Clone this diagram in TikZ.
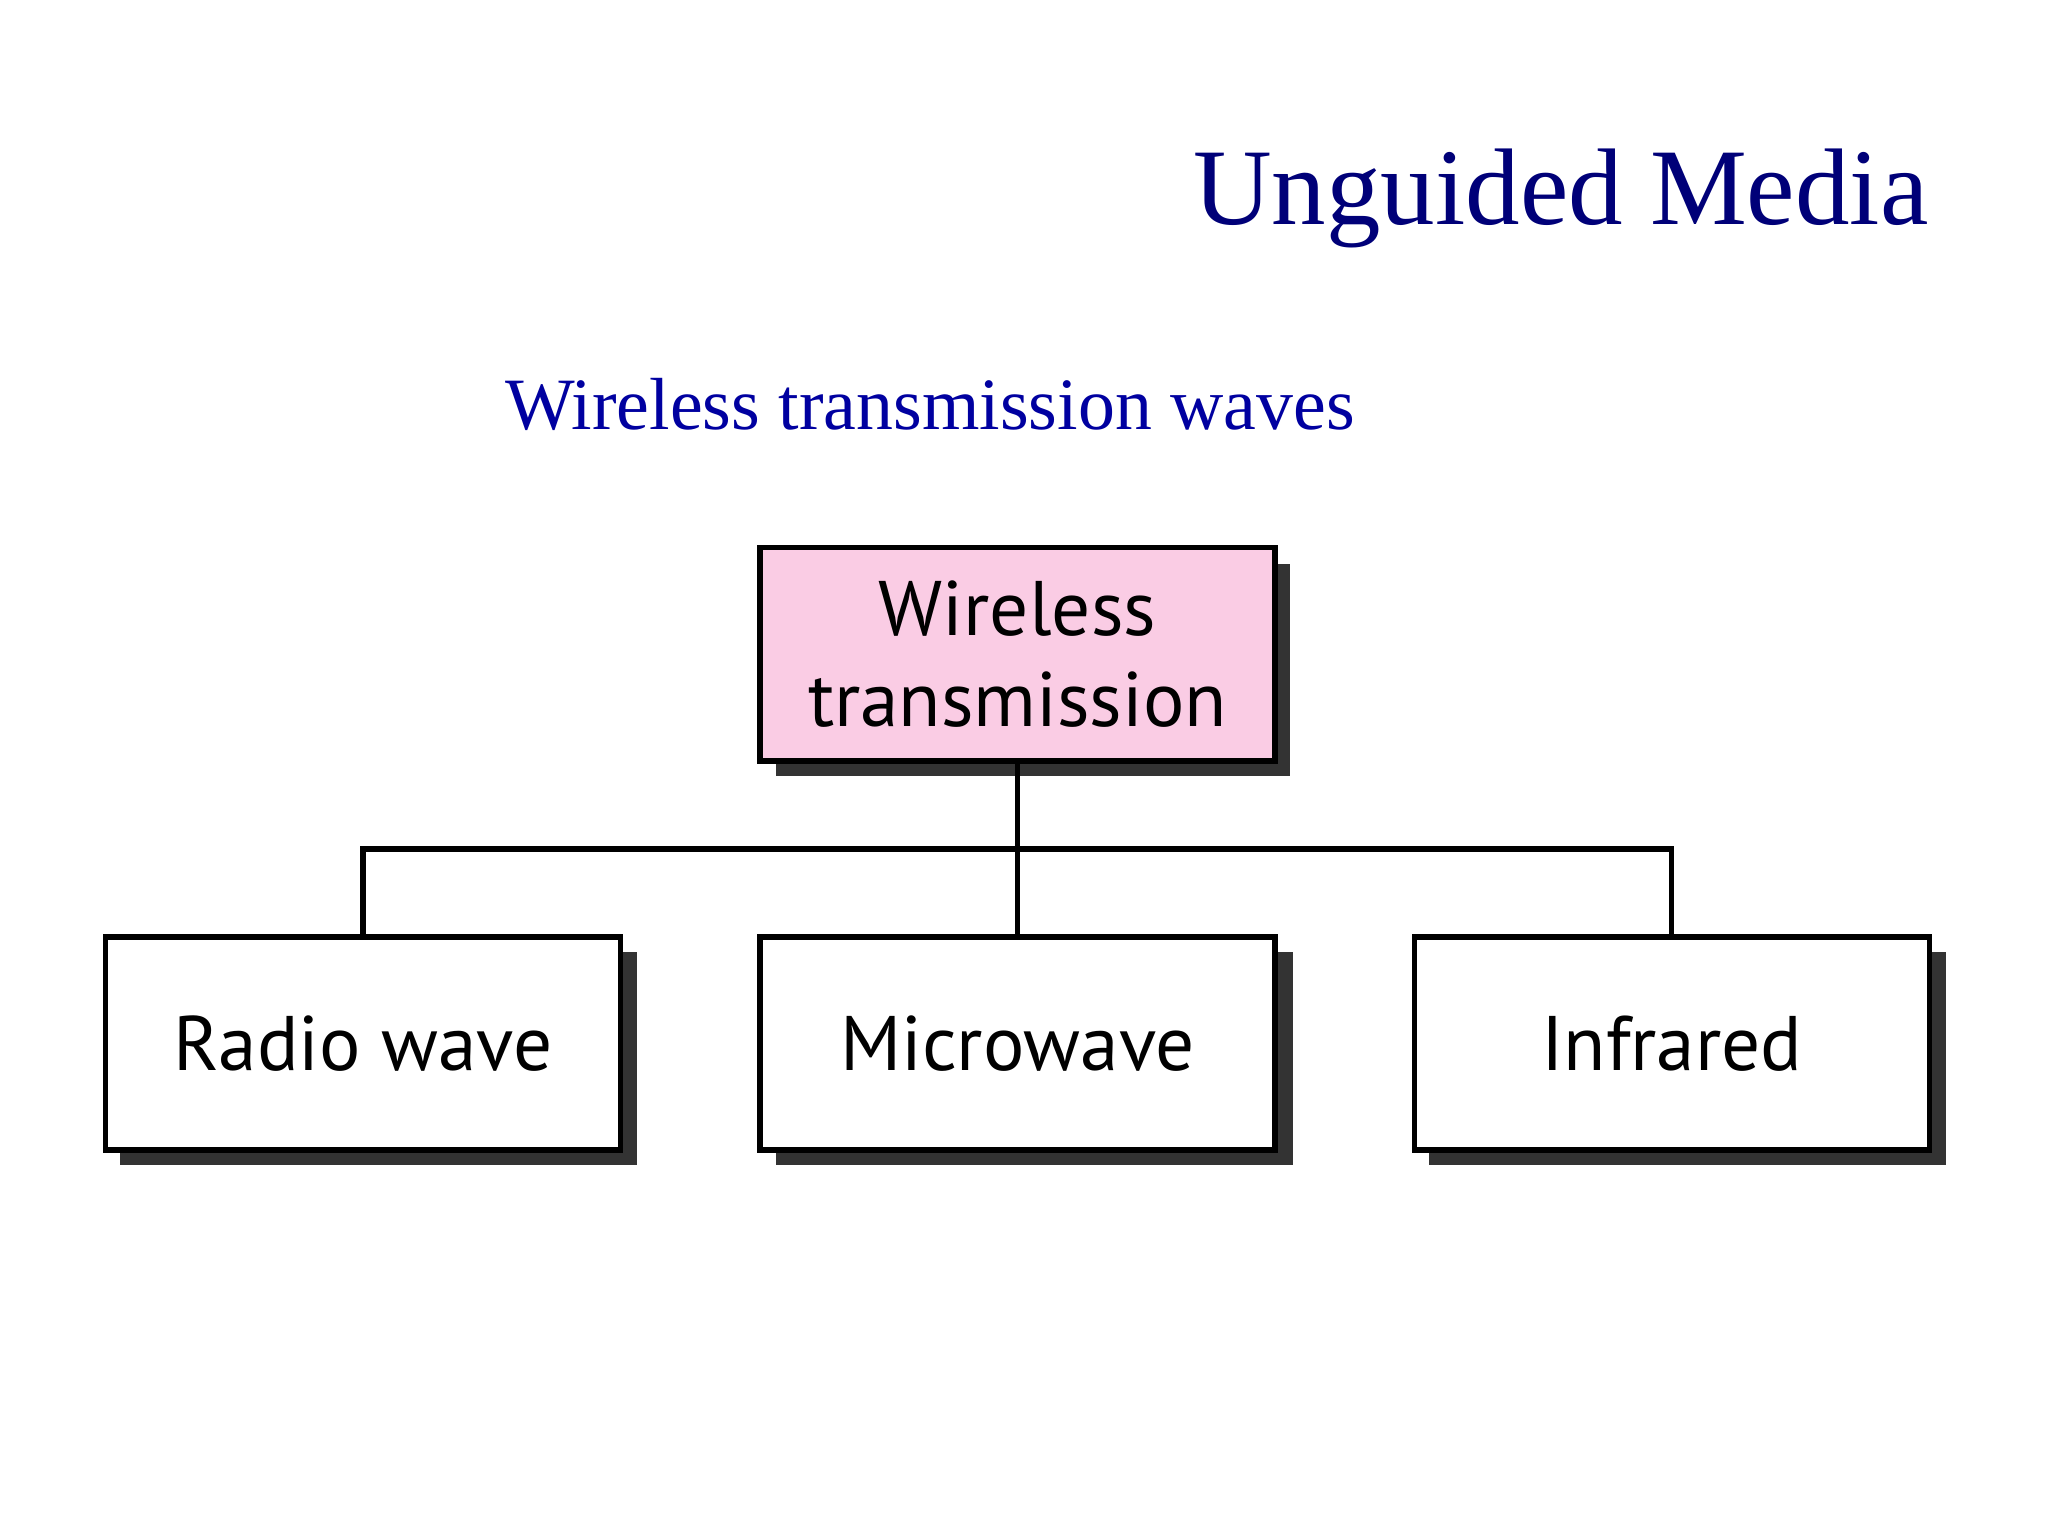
\documentclass[tikz,border=0pt]{standalone}
\usepackage{fontspec}
\setmainfont{Liberation Serif}
\newfontfamily\boxfont{PT Sans}
\definecolor{titleblue}{RGB}{0,0,120}
\definecolor{subblue}{RGB}{0,0,160}
\definecolor{boxpink}{RGB}{250,204,228}
\begin{document}
\begin{tikzpicture}[x=0.01306cm,y=-0.01306cm,
    cat/.style={draw, line width=1.5pt, minimum width=394\pgflinewidth*0+5.15cm,
        minimum height=2.13cm, align=center, font=\boxfont\fontsize{22}{26}\selectfont,
        fill=white},
    shade box/.style={fill=black!80},
    link/.style={line width=1.5pt}]
\useasboundingbox (0,0) rectangle (1568,1176);
\node (title) [text=titleblue, font=\fontsize{31}{36}\selectfont] at (1195,152) {Unguided Media};
\node (sub) [text=subblue, font=\fontsize{21}{25}\selectfont] at (712,310) {Wireless transmission waves};
% shadows
\fill[shade box] (594,432) rectangle (988,594);
\foreach \x in {92,594,1094} \fill[shade box] (\x,729) rectangle (\x+396,892);
\node (wt) [cat, fill=boxpink] at (779,501) {Wireless\\transmission};
\node (rw) [cat] at (278,799) {Radio wave};
\node (mw) [cat] at (779,799) {Microwave};
\node (ir) [cat] at (1280,799) {Infrared};
\coordinate (bus) at (779,650);
\draw[link] (wt.south) -- (mw.north);
\draw[link] (rw.north) |- (bus) -| (ir.north);
\end{tikzpicture}
\end{document}
